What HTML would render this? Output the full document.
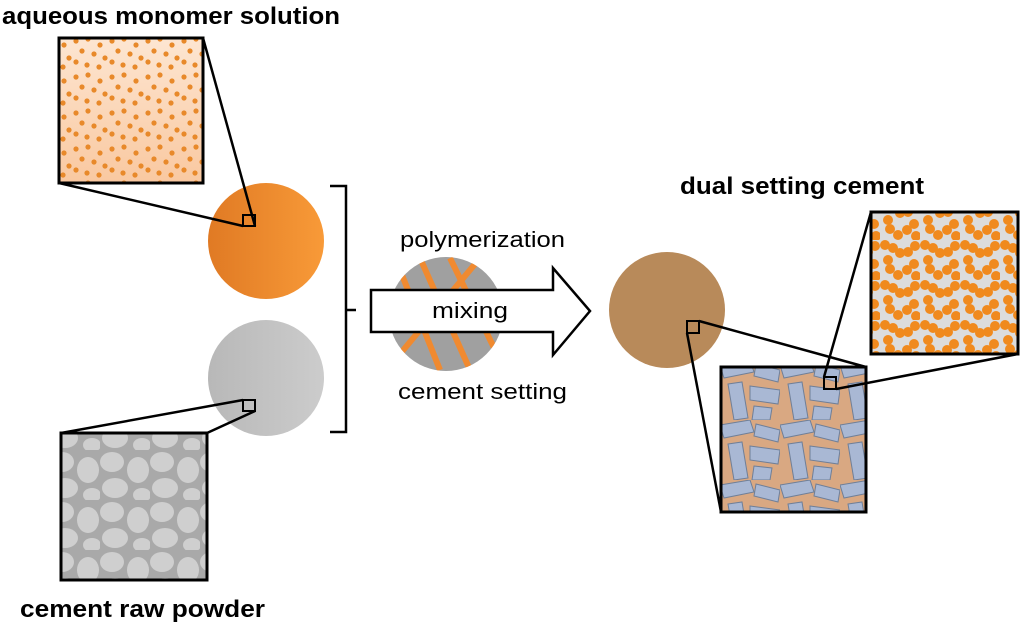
<!DOCTYPE html>
<html><head><meta charset="utf-8"><style>
body{margin:0;background:#fff;width:1024px;height:626px;overflow:hidden}
svg{display:block}
.b{font-family:"Liberation Sans",sans-serif;font-weight:bold;font-size:24px;fill:#000}
.n{font-family:"Liberation Sans",sans-serif;font-size:22px;fill:#000}
</style></head><body>
<svg width="1024" height="626" viewBox="0 0 1024 626">
<defs>
<linearGradient id="og" x1="0" x2="1"><stop offset="0" stop-color="#e07a24"/><stop offset="1" stop-color="#f89a38"/></linearGradient>
<linearGradient id="gg" x1="0" x2="1"><stop offset="0" stop-color="#b8b8b8"/><stop offset="1" stop-color="#cccccc"/></linearGradient>
<linearGradient id="pg" x1="0" y1="0" x2="0" y2="1"><stop offset="0" stop-color="#fde6d2"/><stop offset="1" stop-color="#f9c8a0"/></linearGradient>
<pattern id="dots" width="36" height="36" patternUnits="userSpaceOnUse">
<g fill="#e8892a"><circle cx="4" cy="5" r="2.6"/><circle cx="16" cy="3" r="2.6"/><circle cx="28" cy="9" r="2.6"/><circle cx="10" cy="15" r="2.6"/><circle cx="22" cy="18" r="2.6"/><circle cx="33" cy="22" r="2.6"/><circle cx="4" cy="26" r="2.6"/><circle cx="15" cy="29" r="2.6"/><circle cx="27" cy="31" r="2.6"/></g></pattern>
<pattern id="chain" width="40" height="40" patternUnits="userSpaceOnUse">
<g fill="#f08a1e"><circle cx="5" cy="5" r="5"/><circle cx="13" cy="8" r="5"/><circle cx="20" cy="13" r="5"/><circle cx="28" cy="12" r="5"/><circle cx="35" cy="6" r="5"/><circle cx="8" cy="20" r="5"/><circle cx="10" cy="29" r="5"/><circle cx="18" cy="35" r="5"/><circle cx="27" cy="30" r="5"/><circle cx="34" cy="24" r="5"/><circle cx="36" cy="36" r="5"/></g></pattern>
<pattern id="cem" width="50" height="50" patternUnits="userSpaceOnUse">
<rect width="50" height="50" fill="#a9a9a9"/><g fill="#cfcfcf"><ellipse cx="12" cy="12" rx="12" ry="10"/><ellipse cx="38" cy="20" rx="11" ry="13"/><ellipse cx="15" cy="38" rx="13" ry="10"/><ellipse cx="42" cy="45" rx="9" ry="7"/></g></pattern>
<pattern id="cry" width="60" height="60" patternUnits="userSpaceOnUse">
<rect width="60" height="60" fill="#d9a882"/><g fill="#a9b8d4" stroke="#6f7f98" stroke-width="1"><polygon points="0,5 30,0 34,12 4,18"/><polygon points="36,4 60,10 58,22 34,16"/><polygon points="8,24 22,22 28,58 14,60"/><polygon points="30,26 60,30 58,44 30,40"/><polygon points="34,46 52,48 50,60 32,60"/></g></pattern>
<clipPath id="mc"><circle cx="446" cy="314" r="57"/></clipPath>
</defs>
<text class="b" x="2" y="24" textLength="338" lengthAdjust="spacingAndGlyphs">aqueous monomer solution</text>
<rect x="59" y="38" width="144" height="145" fill="url(#pg)"/><rect x="59" y="38" width="144" height="145" fill="url(#dots)" stroke="#000" stroke-width="3"/>
<circle cx="266" cy="241" r="58" fill="url(#og)"/>
<line x1="203" y1="38" x2="255" y2="226" stroke="#000" stroke-width="2.5"/>
<line x1="59" y1="183" x2="243" y2="226" stroke="#000" stroke-width="2.5"/>
<rect x="243" y="215" width="12" height="11" fill="none" stroke="#000" stroke-width="2"/>
<circle cx="266" cy="378" r="58" fill="url(#gg)"/>
<rect x="61" y="433" width="146" height="147" fill="url(#cem)" stroke="#000" stroke-width="3"/>
<line x1="61" y1="433" x2="243" y2="400" stroke="#000" stroke-width="2.5"/>
<line x1="207" y1="433" x2="255" y2="411" stroke="#000" stroke-width="2.5"/>
<rect x="243" y="400" width="12" height="11" fill="none" stroke="#000" stroke-width="2"/>
<text class="b" x="20" y="617" textLength="245" lengthAdjust="spacingAndGlyphs">cement raw powder</text>
<path d="M330 186 H346 V432 H330 M346 310 H356" fill="none" stroke="#000" stroke-width="2.5"/>
<g clip-path="url(#mc)"><rect x="389" y="257" width="114" height="114" fill="#a0a0a0"/><g stroke="#f08a30" stroke-width="6"><line x1="400" y1="270" x2="440" y2="370"/><line x1="420" y1="258" x2="470" y2="370"/><line x1="450" y1="258" x2="500" y2="360"/><line x1="480" y1="258" x2="395" y2="360"/></g></g>
<text class="n" x="400" y="247" textLength="165" lengthAdjust="spacingAndGlyphs">polymerization</text>
<path d="M371 290 H553 V268 L590 311 L553 355 V332 H371 Z" fill="#fff" stroke="#000" stroke-width="2.5"/>
<text class="n" x="432" y="318" textLength="76" lengthAdjust="spacingAndGlyphs">mixing</text>
<text class="n" x="398" y="399" textLength="169" lengthAdjust="spacingAndGlyphs">cement setting</text>
<text class="b" x="680" y="194" textLength="244" lengthAdjust="spacingAndGlyphs">dual setting cement</text>
<circle cx="667" cy="310" r="58" fill="#b88a5a"/>
<rect x="871" y="212" width="147" height="142" fill="#dcdcdc"/><rect x="871" y="212" width="147" height="142" fill="url(#chain)" stroke="#000" stroke-width="3"/>
<rect x="721" y="367" width="145" height="145" fill="url(#cry)" stroke="#000" stroke-width="3"/>
<line x1="699" y1="321" x2="866" y2="367" stroke="#000" stroke-width="2.5"/>
<line x1="687" y1="333" x2="721" y2="512" stroke="#000" stroke-width="2.5"/>
<rect x="687" y="321" width="12" height="12" fill="none" stroke="#000" stroke-width="2"/>
<line x1="824" y1="377" x2="871" y2="212" stroke="#000" stroke-width="2.5"/>
<line x1="836" y1="389" x2="1018" y2="354" stroke="#000" stroke-width="2.5"/>
<rect x="824" y="377" width="12" height="12" fill="none" stroke="#000" stroke-width="2"/>
</svg>
</body></html>
